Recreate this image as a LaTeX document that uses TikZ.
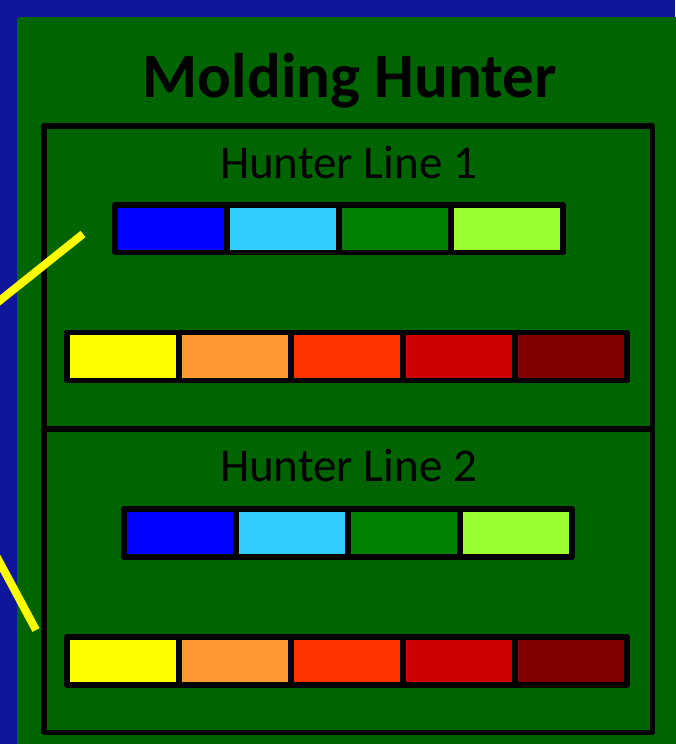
\documentclass[tikz,border=0pt]{standalone}
\usepackage{fontspec}
\setmainfont{Carlito}
\definecolor{bgblue}{HTML}{10169A}
\definecolor{panel}{HTML}{006400}
\definecolor{cBlue}{HTML}{0000FF}
\definecolor{cSky}{HTML}{33CCFF}
\definecolor{cGreen}{HTML}{008000}
\definecolor{cLime}{HTML}{99FF33}
\definecolor{cYellow}{HTML}{FFFF00}
\definecolor{cOrange}{HTML}{FF9933}
\definecolor{cRedOr}{HTML}{FF3300}
\definecolor{cRed}{HTML}{CC0000}
\definecolor{cMaroon}{HTML}{800000}
\definecolor{wire}{HTML}{FFFF00}
\tikzset{
  cell/.style={draw=black, line width=5.5pt, line join=round, inner sep=0pt,
    minimum width=112pt, minimum height=48pt},
  linebox/.style={draw=black, line width=5.5pt, line join=round, inner sep=0pt,
    minimum width=608.5pt},
  title/.style={font=\fontsize{63}{70}\selectfont\bfseries, anchor=base, inner sep=0pt},
  label/.style={font=\fontsize{47}{52}\selectfont, anchor=base, inner sep=0pt},
  feed/.style={draw=wire, line width=8pt}
}
\begin{document}
\begin{tikzpicture}[x=1pt,y=-1pt]
  \useasboundingbox (0,0) rectangle (675,744);
  \fill[bgblue] (0,0) rectangle (675,744);
  \fill[panel, rounded corners=3pt] (17,17) rectangle (690,760);

  % title
  \node[title] (title) at (349.5,97.3) {Molding Hunter};

  % the two hunter line enclosures
  \node[linebox, minimum height=303pt] (box1) at (348.25,277.5) {};
  \node[linebox, minimum height=303.5pt] (box2) at (348.25,580.75) {};

  \node[label] (lab1) at (348.5,178.3) {Hunter Line 1};
  \node[label] (lab2) at (348.5,481.7) {Hunter Line 2};

  % line 1, upper bar
  \node[cell, fill=cBlue, minimum height=47.5pt]  (a1) at (171,228.75) {};
  \node[cell, fill=cSky, minimum height=47.5pt]   (a2) at (283,228.75) {};
  \node[cell, fill=cGreen, minimum height=47.5pt] (a3) at (395,228.75) {};
  \node[cell, fill=cLime, minimum height=47.5pt]  (a4) at (507,228.75) {};

  % line 1, lower bar
  \node[cell, fill=cYellow] (b1) at (123,356.5) {};
  \node[cell, fill=cOrange] (b2) at (235,356.5) {};
  \node[cell, fill=cRedOr]  (b3) at (347,356.5) {};
  \node[cell, fill=cRed]    (b4) at (459,356.5) {};
  \node[cell, fill=cMaroon] (b5) at (571,356.5) {};

  % line 2, upper bar
  \node[cell, fill=cBlue]  (c1) at (180,532.75) {};
  \node[cell, fill=cSky]   (c2) at (292,532.75) {};
  \node[cell, fill=cGreen] (c3) at (404,532.75) {};
  \node[cell, fill=cLime]  (c4) at (516,532.75) {};

  % line 2, lower bar
  \node[cell, fill=cYellow] (d1) at (123,660.75) {};
  \node[cell, fill=cOrange] (d2) at (235,660.75) {};
  \node[cell, fill=cRedOr]  (d3) at (347,660.75) {};
  \node[cell, fill=cRed]    (d4) at (459,660.75) {};
  \node[cell, fill=cMaroon] (d5) at (571,660.75) {};

  % incoming feeds
  \coordinate (f1a) at (-12,310);
  \coordinate (f1b) at (83,234);
  \coordinate (f2a) at (-8,548);
  \coordinate (f2b) at (36,630);
  \begin{scope}
    \clip (0,0) rectangle (675,744);
    \draw[feed] (f1a) -- (f1b);
    \draw[feed] (f2a) -- (f2b);
  \end{scope}
\end{tikzpicture}
\end{document}
